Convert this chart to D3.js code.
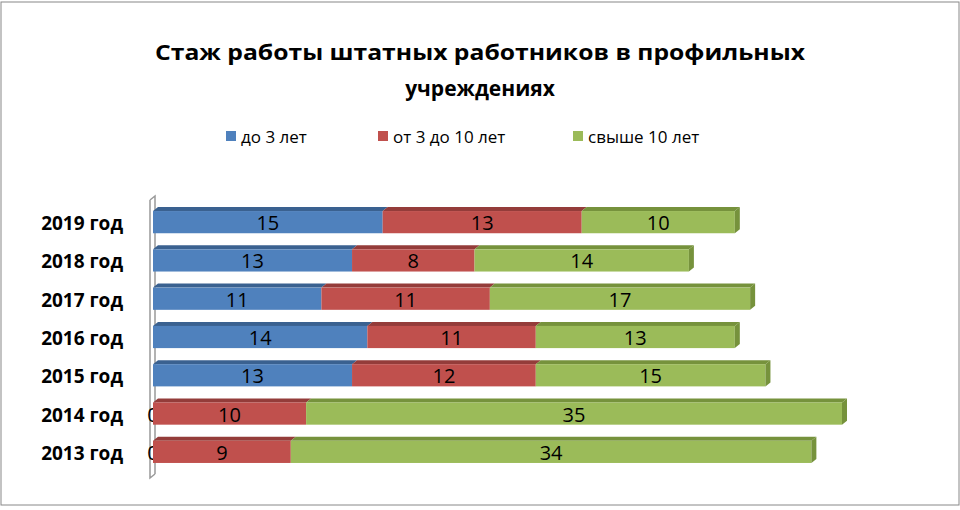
<!DOCTYPE html>
<html><head><meta charset="utf-8">
<script src="https://cdn.jsdelivr.net/npm/d3@7"></script>
<style>body{margin:0;background:#fff}text{font-family:"Open Sans",sans-serif}</style>
</head><body><svg id="c" width="960" height="510"></svg>
<script>
const categories=["2019 год","2018 год","2017 год","2016 год","2015 год","2014 год","2013 год"];
const seriesNames=["до  3 лет","от 3 до 10 лет","свыше 10 лет"];
const s1=[15,13,11,14,13,0,0];
const s2=[13,8,11,11,12,10,9];
const s3=[10,14,17,13,15,35,34];
const colors=["#4f81bd","#c0504d","#9bbb59"];
const dark=["#3a6190","#943c3a","#76923c"];
const svg=d3.select("#c");
svg.append("rect").attr("x",1).attr("y",2).attr("width",958).attr("height",503).attr("fill","none").attr("stroke","#888");
svg.append("text").attr("x",480).attr("y",60).attr("text-anchor","middle").attr("font-size",21).attr("font-weight","bold").attr("textLength",650).attr("lengthAdjust","spacingAndGlyphs").text("Стаж работы штатных работников в профильных");
svg.append("text").attr("x",480).attr("y",96).attr("text-anchor","middle").attr("font-size",21).attr("font-weight","bold").text("учреждениях");
const x=d3.scaleLinear().domain([0,45]).range([153,842]);
const y=d3.scaleBand().domain(categories).range([203,471]).paddingInner(0.42).paddingOuter(0.21);
const dx=5,dy=4;
svg.append("path").attr("d",`M150,200 L150,478 L${150+dx},${478-dy} M150,200 L${150+dx},${200-dy} L${150+dx},${474}`).attr("fill","none").attr("stroke","#999").attr("stroke-width",1.5);
const lx=[226,378,573];
seriesNames.forEach((n,i)=>{
 svg.append("rect").attr("x",lx[i]).attr("y",131).attr("width",10).attr("height",10).attr("fill",colors[i]);
 svg.append("text").attr("x",lx[i]+15).attr("y",143).attr("font-size",17).text(n);
});
const data=[s1,s2,s3];
categories.forEach((c,ci)=>{
 let acc=0;
 const y0=y(c),h=y.bandwidth();
 data.forEach((s,si)=>{
  const v=s[ci],x0=x(acc),x1=x(acc+v);
  if(v>0){
   svg.append("path").attr("d",`M${x0},${y0} L${x0+dx},${y0-dy} L${x1+dx},${y0-dy} L${x1},${y0}Z`).attr("fill",dark[si]);
   svg.append("rect").attr("x",x0).attr("y",y0).attr("width",x1-x0).attr("height",h).attr("fill",colors[si]);
  }
  svg.append("text").attr("x",v>0?(x0+x1)/2:x0).attr("y",y0+h/2+8).attr("text-anchor","middle").attr("font-size",20).text(v);
  acc+=v;
 });
 const xe=x(acc);
 svg.append("path").attr("d",`M${xe},${y0} L${xe+dx},${y0-dy} L${xe+dx},${y0+h-dy} L${xe},${y0+h}Z`).attr("fill",dark[2]);
 svg.append("text").attr("x",123).attr("y",y0+h/2+8).attr("text-anchor","end").attr("font-size",19).attr("font-weight","bold").text(c);
});
</script></body></html>
